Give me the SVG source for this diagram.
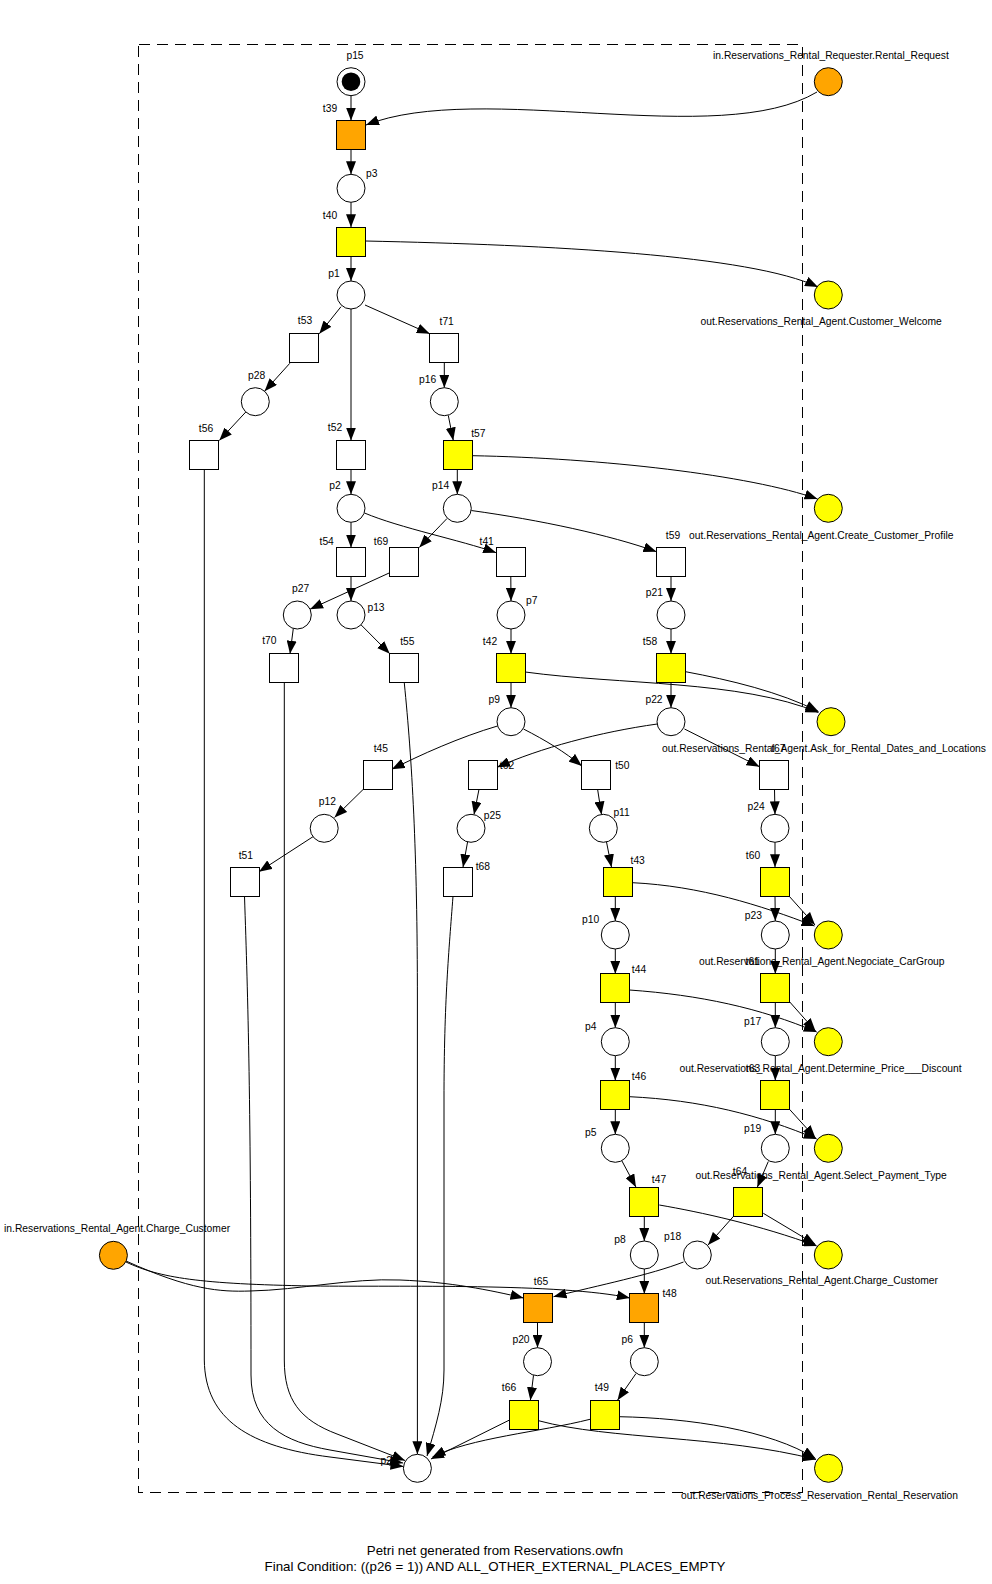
<svg xmlns="http://www.w3.org/2000/svg" width="992" height="1584" viewBox="0 0 992 1584">
<style>
.pl{fill:#fff;stroke:#000;stroke-width:1}
.tr{fill:#fff;stroke:#000;stroke-width:1;shape-rendering:crispEdges}
.ye{fill:#ffff00}
.or{fill:#ffa500}
.lbl{font-family:"Liberation Sans",Arial,sans-serif;font-size:10.3px;fill:#000;text-anchor:middle}
.ext{font-family:"Liberation Sans",Arial,sans-serif;font-size:10.3px;fill:#000}
.cap{font-family:"Liberation Sans",Arial,sans-serif;font-size:13.3px;fill:#000;text-anchor:middle}
.e{fill:none;stroke:#000;stroke-width:1;marker-end:url(#ah)}
.box{fill:none;stroke:#000;stroke-width:1;stroke-dasharray:11,7;shape-rendering:crispEdges}
</style>
<defs>
<marker id="ah" markerUnits="userSpaceOnUse" markerWidth="13" markerHeight="10" refX="13" refY="5" orient="auto">
<path d="M0,0 L13,5 L0,10 z" fill="#000"/>
</marker>
</defs>
<rect width="992" height="1584" fill="#fff"/>
<rect class="box" x="138.5" y="44.5" width="664" height="1448"/>

<g id="connectors">
<path class="e" d="M351,95.7 L351,120.5"/>
<path class="e" d="M817,92 C720,150 480,80 366,125"/>
<path class="e" d="M351,149.5 L351,174.3"/>
<path class="e" d="M351,202.3 L351,227.2"/>
<path class="e" d="M365.5,241 C550,245 750,255 818,287"/>
<path class="e" d="M351,256.2 L351,281"/>
<path class="e" d="M341,306.7 L319.3,333.8"/>
<path class="e" d="M351,309 L351,440.5"/>
<path class="e" d="M365,305 L429.8,333.8"/>
<path class="e" d="M289.8,363.3 L264.6,391.2"/>
<path class="e" d="M245.8,412 L219.3,440.5"/>
<path class="e" d="M444.3,362.8 L444.3,387.7"/>
<path class="e" d="M448.3,415.5 L453.3,440.5"/>
<path class="e" d="M204.3,469.5 L204.3,1360 C205,1420 250,1447 330,1457 L403.5,1466.5"/>
<path class="e" d="M244.5,896.2 C248,1000 251,1100 251,1375 C251,1425 285,1442 330,1450 L403,1463"/>
<path class="e" d="M284.3,683 L284.3,1360 C284.3,1400 300,1420 337,1434 L405,1460.5"/>
<path class="e" d="M404.3,683 C412,760 417.4,850 417.4,1000 L417.4,1454.3"/>
<path class="e" d="M453,896.2 C449,950 444,1000 444,1100 L444,1370 C444,1400 436,1425 427,1456"/>
<path class="e" d="M509.5,1420 L431,1459"/>
<path class="e" d="M590,1419.3 C540,1432 470,1438 432.5,1457"/>
<path class="e" d="M538.5,1420.7 C610,1440 720,1435 816,1459.5"/>
<path class="e" d="M619,1416.7 C690,1418 770,1430 815.5,1458.5"/>
<path class="e" d="M351,469.5 L351,494.3"/>
<path class="e" d="M457.3,469.5 L457.3,494.3"/>
<path class="e" d="M472.5,455.7 C600,458 750,475 817.5,499"/>
<path class="e" d="M471.3,510.5 C540,520 610,535 656.5,551.7"/>
<path class="e" d="M447,518.5 C438,528 428,538 419.3,547.5"/>
<path class="e" d="M364.5,513 C400,528 460,540 496.2,552.7"/>
<path class="e" d="M351,522.3 L351,547.5"/>
<path class="e" d="M389.8,572.7 L310,609.2"/>
<path class="e" d="M351,576.5 L351,601"/>
<path class="e" d="M361,624.8 L389.8,653.8"/>
<path class="e" d="M293.3,628.5 L290,653.8"/>
<path class="e" d="M510.8,576.5 L511,601"/>
<path class="e" d="M511,629 L511,653.8"/>
<path class="e" d="M671,576.5 L671,601"/>
<path class="e" d="M671,629 L671,653.8"/>
<path class="e" d="M511,683 L511,707.7"/>
<path class="e" d="M671,683 L671,707.7"/>
<path class="e" d="M525.2,672 C620,685 740,680 818.5,712.5"/>
<path class="e" d="M685.5,671.7 C730,680 780,692 818.5,711.5"/>
<path class="e" d="M497.5,726 C460,737 420,755 391.8,769.3"/>
<path class="e" d="M523.5,729 C545,740 565,752 581.8,766"/>
<path class="e" d="M657.3,724 C600,732 540,748 497,767.3"/>
<path class="e" d="M684.5,729 L759.5,766.7"/>
<path class="e" d="M363.3,789.3 L334.5,817.5"/>
<path class="e" d="M313,836.7 L259,871.7"/>
<path class="e" d="M479,789.3 L474,814.5"/>
<path class="e" d="M467.6,841.8 L463,867.2"/>
<path class="e" d="M597.6,789.3 L601.5,814.5"/>
<path class="e" d="M606.5,842 L611.5,867.2"/>
<path class="e" d="M774.5,789.5 L775,814.3"/>
<path class="e" d="M775,842.3 L775,867.2"/>
<path class="e" d="M775,896.2 L775.3,921"/>
<path class="e" d="M615.3,896.2 L615.3,921"/>
<path class="e" d="M632.5,882.7 C700,886 760,905 814.5,926"/>
<path class="e" d="M789,896 L815,925"/>
<path class="e" d="M615.3,949 L615.3,973.8"/>
<path class="e" d="M775.3,949 L775.3,973.8"/>
<path class="e" d="M615.3,1003 L615.3,1027.7"/>
<path class="e" d="M775.3,1003 L775.3,1027.7"/>
<path class="e" d="M629.5,990 C700,995 760,1008 816.7,1032"/>
<path class="e" d="M789.5,1001.7 L815.5,1031"/>
<path class="e" d="M615.3,1055.7 L615.3,1080.5"/>
<path class="e" d="M775.3,1055.7 L775.3,1080.5"/>
<path class="e" d="M615.3,1109.5 L615.3,1134.3"/>
<path class="e" d="M775.3,1109.5 L775.3,1134.3"/>
<path class="e" d="M629.5,1096.7 C700,1100 760,1115 816.7,1139"/>
<path class="e" d="M789.5,1109.3 L815.5,1138"/>
<path class="e" d="M621.7,1160.5 L636,1187.2"/>
<path class="e" d="M768.3,1161.5 L757.3,1187.2"/>
<path class="e" d="M644.3,1216.2 L644.3,1241"/>
<path class="e" d="M733.8,1216 L708,1245"/>
<path class="e" d="M659.3,1205 C700,1212 760,1225 816.7,1246"/>
<path class="e" d="M763.3,1213.3 L815.5,1244.5"/>
<path class="e" d="M683.5,1262 C650,1275 600,1285 553.5,1296.7"/>
<path class="e" d="M644.3,1269 L644.3,1293.8"/>
<path class="e" d="M126,1261 C190,1290 220,1292 250,1291 C300,1290 350,1278 400,1280 C450,1282 490,1290 523.5,1298"/>
<path class="e" d="M126,1262 C160,1278 200,1284 312,1286 C400,1287 560,1283 629.9,1298"/>
<path class="e" d="M537.5,1323 L537.5,1347.7"/>
<path class="e" d="M644.3,1323 L644.3,1347.7"/>
<path class="e" d="M533.5,1375.3 L530.4,1400.2"/>
<path class="e" d="M636,1373.5 L617.5,1400.2"/>
</g>

<g id="p15"><circle class="pl" cx="351" cy="81.7" r="14"/><circle cx="351" cy="81.7" r="9.3" fill="#000"/><text class="lbl" x="355" y="59">p15</text></g>
<g id="t39"><rect class="tr or" x="336.5" y="120.5" width="29" height="29"/><text class="lbl" x="330" y="111.5">t39</text></g>
<g id="p3"><circle class="pl" cx="351" cy="188.3" r="14"/><text class="lbl" x="371.7" y="176.8">p3</text></g>
<g id="t40"><rect class="tr ye" x="336.5" y="227.2" width="29" height="29"/><text class="lbl" x="330" y="219.2">t40</text></g>
<g id="p1"><circle class="pl" cx="351" cy="295" r="14"/><text class="lbl" x="334" y="276.8">p1</text></g>
<g id="t53"><rect class="tr" x="289.8" y="333.8" width="29" height="29"/><text class="lbl" x="305" y="324.2">t53</text></g>
<g id="t71"><rect class="tr" x="429.8" y="333.8" width="29" height="29"/><text class="lbl" x="446.7" y="325.2">t71</text></g>
<g id="p28"><circle class="pl" cx="255.3" cy="401.7" r="14"/><text class="lbl" x="256.7" y="378.5">p28</text></g>
<g id="p16"><circle class="pl" cx="444.3" cy="401.7" r="14"/><text class="lbl" x="427.7" y="382.8">p16</text></g>
<g id="t56"><rect class="tr" x="189.8" y="440.5" width="29" height="29"/><text class="lbl" x="206" y="431.8">t56</text></g>
<g id="t52"><rect class="tr" x="336.5" y="440.5" width="29" height="29"/><text class="lbl" x="335" y="430.8">t52</text></g>
<g id="t57"><rect class="tr ye" x="443.5" y="440.5" width="29" height="29"/><text class="lbl" x="478.3" y="436.8">t57</text></g>
<g id="p2"><circle class="pl" cx="351" cy="508.3" r="14"/><text class="lbl" x="335" y="488.5">p2</text></g>
<g id="p14"><circle class="pl" cx="457.3" cy="508.3" r="14"/><text class="lbl" x="440.7" y="488.5">p14</text></g>
<g id="t54"><rect class="tr" x="336.5" y="547.5" width="29" height="29"/><text class="lbl" x="326.7" y="544.5">t54</text></g>
<g id="t69"><rect class="tr" x="389.8" y="547.5" width="29" height="29"/><text class="lbl" x="381" y="544.5">t69</text></g>
<g id="t41"><rect class="tr" x="496.2" y="547.5" width="29" height="29"/><text class="lbl" x="486.7" y="544.5">t41</text></g>
<g id="t59"><rect class="tr" x="656.5" y="547.5" width="29" height="29"/><text class="lbl" x="673" y="539.2">t59</text></g>
<g id="p27"><circle class="pl" cx="297.3" cy="615" r="14"/><text class="lbl" x="300.7" y="591.8">p27</text></g>
<g id="p13"><circle class="pl" cx="351" cy="615" r="14"/><text class="lbl" x="376" y="610.8">p13</text></g>
<g id="p7"><circle class="pl" cx="511" cy="615" r="14"/><text class="lbl" x="531.7" y="603.5">p7</text></g>
<g id="p21"><circle class="pl" cx="671" cy="615" r="14"/><text class="lbl" x="654.3" y="595.8">p21</text></g>
<g id="t70"><rect class="tr" x="269.8" y="653.8" width="29" height="29"/><text class="lbl" x="269.3" y="643.5">t70</text></g>
<g id="t55"><rect class="tr" x="389.8" y="653.8" width="29" height="29"/><text class="lbl" x="407.3" y="644.5">t55</text></g>
<g id="t42"><rect class="tr ye" x="496.2" y="653.8" width="29" height="29"/><text class="lbl" x="490" y="644.5">t42</text></g>
<g id="t58"><rect class="tr ye" x="656.5" y="653.8" width="29" height="29"/><text class="lbl" x="650" y="644.5">t58</text></g>
<g id="p9"><circle class="pl" cx="511" cy="721.7" r="14"/><text class="lbl" x="494.3" y="702.8">p9</text></g>
<g id="p22"><circle class="pl" cx="671" cy="721.7" r="14"/><text class="lbl" x="654" y="702.8">p22</text></g>
<g id="t45"><rect class="tr" x="363.3" y="760.3" width="29" height="29"/><text class="lbl" x="380.8" y="751.8">t45</text></g>
<g id="t62"><rect class="tr" x="468.1" y="760.3" width="29" height="29"/><text class="lbl" x="507" y="768.5">t62</text></g>
<g id="t50"><rect class="tr" x="581.8" y="760.3" width="29" height="29"/><text class="lbl" x="622.4" y="768.5">t50</text></g>
<g id="t67"><rect class="tr" x="759.5" y="760.3" width="29" height="29"/><text class="lbl" x="778.3" y="751.8">t67</text></g>
<g id="p12"><circle class="pl" cx="324.2" cy="828.3" r="14"/><text class="lbl" x="327.3" y="805.2">p12</text></g>
<g id="p25"><circle class="pl" cx="471" cy="828.3" r="14"/><text class="lbl" x="492.4" y="818.5">p25</text></g>
<g id="p11"><circle class="pl" cx="603.3" cy="828.3" r="14"/><text class="lbl" x="621.6" y="815.8">p11</text></g>
<g id="p24"><circle class="pl" cx="775" cy="828.3" r="14"/><text class="lbl" x="756.2" y="809.5">p24</text></g>
<g id="t51"><rect class="tr" x="230" y="867.2" width="29" height="29"/><text class="lbl" x="245.9" y="858.5">t51</text></g>
<g id="t68"><rect class="tr" x="443.3" y="867.2" width="29" height="29"/><text class="lbl" x="482.9" y="870.2">t68</text></g>
<g id="t43"><rect class="tr ye" x="603.2" y="867.2" width="29" height="29"/><text class="lbl" x="637.7" y="863.5">t43</text></g>
<g id="t60"><rect class="tr ye" x="760" y="867.2" width="29" height="29"/><text class="lbl" x="753" y="858.5">t60</text></g>
<g id="p10"><circle class="pl" cx="615.3" cy="935" r="14"/><text class="lbl" x="590.7" y="922.8">p10</text></g>
<g id="p23"><circle class="pl" cx="775.3" cy="935" r="14"/><text class="lbl" x="753.3" y="918.8">p23</text></g>
<g id="t44"><rect class="tr ye" x="600.5" y="973.8" width="29" height="29"/><text class="lbl" x="639" y="972.8">t44</text></g>
<g id="t61"><rect class="tr ye" x="760.5" y="973.8" width="29" height="29"/><text class="lbl" x="752.7" y="965.2">t61</text></g>
<g id="p4"><circle class="pl" cx="615.3" cy="1041.7" r="14"/><text class="lbl" x="590.7" y="1029.5">p4</text></g>
<g id="p17"><circle class="pl" cx="775.3" cy="1041.7" r="14"/><text class="lbl" x="752.7" y="1025.2">p17</text></g>
<g id="t46"><rect class="tr ye" x="600.5" y="1080.5" width="29" height="29"/><text class="lbl" x="639" y="1079.5">t46</text></g>
<g id="t63"><rect class="tr ye" x="760.5" y="1080.5" width="29" height="29"/><text class="lbl" x="753" y="1071.8">t63</text></g>
<g id="p5"><circle class="pl" cx="615.3" cy="1148.3" r="14"/><text class="lbl" x="590.7" y="1136.2">p5</text></g>
<g id="p19"><circle class="pl" cx="775.3" cy="1148.3" r="14"/><text class="lbl" x="752.7" y="1131.8">p19</text></g>
<g id="t47"><rect class="tr ye" x="629.8" y="1187.2" width="29" height="29"/><text class="lbl" x="659" y="1182.8">t47</text></g>
<g id="t64"><rect class="tr ye" x="733.8" y="1187.2" width="29" height="29"/><text class="lbl" x="740" y="1175.2">t64</text></g>
<g id="p8"><circle class="pl" cx="644.3" cy="1255" r="14"/><text class="lbl" x="620" y="1242.8">p8</text></g>
<g id="p18"><circle class="pl" cx="697.3" cy="1255" r="14"/><text class="lbl" x="672.7" y="1240.2">p18</text></g>
<g id="t65"><rect class="tr or" x="523.5" y="1293.8" width="29" height="29"/><text class="lbl" x="541" y="1284.5">t65</text></g>
<g id="t48"><rect class="tr or" x="629.9" y="1293.8" width="29" height="29"/><text class="lbl" x="669.6" y="1296.8">t48</text></g>
<g id="p20"><circle class="pl" cx="537.5" cy="1361.7" r="14"/><text class="lbl" x="521" y="1342.8">p20</text></g>
<g id="p6"><circle class="pl" cx="644.3" cy="1361.7" r="14"/><text class="lbl" x="627.2" y="1342.8">p6</text></g>
<g id="t66"><rect class="tr ye" x="509.5" y="1400.2" width="29" height="29"/><text class="lbl" x="509" y="1390.8">t66</text></g>
<g id="t49"><rect class="tr ye" x="590" y="1400.2" width="29" height="29"/><text class="lbl" x="601.8" y="1390.8">t49</text></g>
<g id="p26"><circle class="pl" cx="417.4" cy="1468.3" r="14"/><text class="lbl" x="389" y="1463.5">p26</text></g>

<g id="in_Rental_Request"><circle class="pl or" cx="828.3" cy="81.7" r="14"/><text class="ext" x="713" y="58.5">in.Reservations_Rental_Requester.Rental_Request</text></g>
<g id="out_Customer_Welcome"><circle class="pl ye" cx="828.3" cy="295" r="14"/><text class="ext" x="700.5" y="324.5">out.Reservations_Rental_Agent.Customer_Welcome</text></g>
<g id="out_Create_Customer_Profile"><circle class="pl ye" cx="828.3" cy="508.3" r="14"/><text class="ext" x="689" y="539.2">out.Reservations_Rental_Agent.Create_Customer_Profile</text></g>
<g id="out_Ask"><circle class="pl ye" cx="831" cy="721.7" r="14"/><text class="ext" x="662" y="751.8">out.Reservations_Rental_Agent.Ask_for_Rental_Dates_and_Locations</text></g>
<g id="out_Negociate"><circle class="pl ye" cx="828.3" cy="935" r="14"/><text class="ext" x="699" y="965.2">out.Reservations_Rental_Agent.Negociate_CarGroup</text></g>
<g id="out_Determine"><circle class="pl ye" cx="828.3" cy="1041.7" r="14"/><text class="ext" x="679.5" y="1071.8">out.Reservations_Rental_Agent.Determine_Price___Discount</text></g>
<g id="out_Select"><circle class="pl ye" cx="828.3" cy="1148.3" r="14"/><text class="ext" x="695.5" y="1179.2">out.Reservations_Rental_Agent.Select_Payment_Type</text></g>
<g id="out_Charge"><circle class="pl ye" cx="828.3" cy="1255" r="14"/><text class="ext" x="705.5" y="1283.5">out.Reservations_Rental_Agent.Charge_Customer</text></g>
<g id="out_Process"><circle class="pl ye" cx="828.5" cy="1468.3" r="14"/><text class="ext" x="681" y="1499.2">out.Reservations_Process_Reservation_Rental_Reservation</text></g>
<g id="in_Charge"><circle class="pl or" cx="113.4" cy="1255.3" r="14"/><text class="ext" x="4" y="1231.8">in.Reservations_Rental_Agent.Charge_Customer</text></g>

<g id="caption">
<text class="cap" x="495" y="1555">Petri net generated from Reservations.owfn</text>
<text class="cap" x="495" y="1571">Final Condition: ((p26 = 1)) AND ALL_OTHER_EXTERNAL_PLACES_EMPTY</text>
</g>
</svg>
